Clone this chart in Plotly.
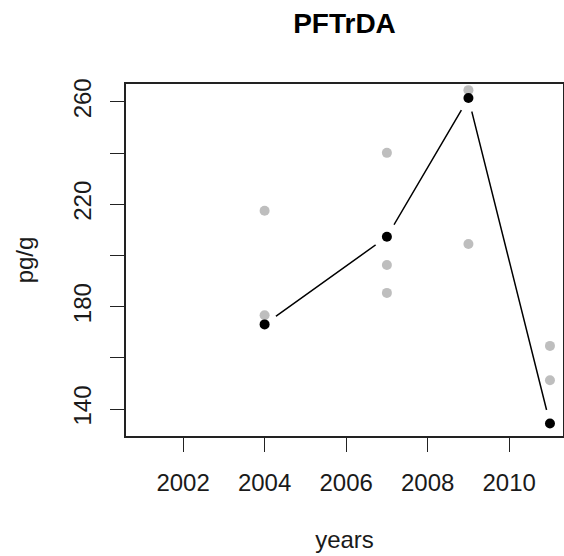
import plotly.graph_objects as go

# Data
years_mean = [2004, 2007, 2009, 2011]
values_mean = [173.1, 207.3, 261.5, 134.4]

years_obs = [2004, 2004, 2007, 2007, 2007, 2009, 2009, 2011, 2011]
values_obs = [176.7, 217.5, 240.1, 196.3, 185.4, 264.6, 204.5, 164.7, 151.3]

x_ticks = [2002, 2004, 2006, 2008, 2010]
y_ticks = [140, 160, 180, 200, 220, 240, 260]
y_ticklabels = ["140", "", "180", "", "220", "", "260"]

FONT = "Liberation Sans, Arial, Helvetica, sans-serif"

fig = go.Figure()

# connecting line (type="b" style)
fig.add_trace(go.Scatter(x=years_mean, y=values_mean, mode="lines",
                         line=dict(color="black", width=1.5),
                         hoverinfo="skip", showlegend=False))
# white halos to create gaps in the line around the points
fig.add_trace(go.Scatter(x=years_mean, y=values_mean, mode="markers",
                         marker=dict(color="white", size=28, line=dict(width=0)),
                         hoverinfo="skip", showlegend=False))
# individual observations
fig.add_trace(go.Scatter(x=years_obs, y=values_obs, mode="markers",
                         marker=dict(color="#BEBEBE", size=10, line=dict(width=0)),
                         cliponaxis=False, showlegend=False))
# means
fig.add_trace(go.Scatter(x=years_mean, y=values_mean, mode="markers",
                         marker=dict(color="black", size=10, line=dict(width=0)),
                         cliponaxis=False, showlegend=False))

fig.update_layout(
    width=564, height=556,
    margin=dict(l=126, r=1, t=84, b=120, autoexpand=False),
    paper_bgcolor="white", plot_bgcolor="white",
    font=dict(family=FONT, size=24, color="#1a1a1a"),
    title=dict(text="<b>PFTrDA</b>", font=dict(size=28, color="black"),
               x=0.5, xref="paper", xanchor="center",
               y=1 - 23/556, yref="container", yanchor="middle"),
)

fig.update_xaxes(
    range=[2000.6, 2011.32], automargin=False,
    tickmode="array", tickvals=x_ticks,
    ticks="outside", ticklen=14, tickwidth=1.3, tickcolor="#222",
    ticklabelstandoff=10,
    showline=True, linecolor="#222", linewidth=1.5, mirror=True,
    showgrid=False, zeroline=False,
    tickfont=dict(size=24),
    title=dict(text="years", font=dict(size=24), standoff=37),
)
fig.update_yaxes(
    range=[129.5, 267.0], automargin=False,
    tickmode="array", tickvals=y_ticks, ticktext=y_ticklabels,
    tickangle=-90,
    ticks="outside", ticklen=14, tickwidth=1.3, tickcolor="#222",
    ticklabelstandoff=10,
    showline=True, linecolor="#222", linewidth=1.5, mirror=True,
    showgrid=False, zeroline=False,
    tickfont=dict(size=24),
    title=dict(text="pg/g", font=dict(size=24), standoff=28),
)

fig.write_html("out.html", config={"displayModeBar": False},
               post_script="document.body.style.margin='0';document.body.style.overflow='hidden';")
